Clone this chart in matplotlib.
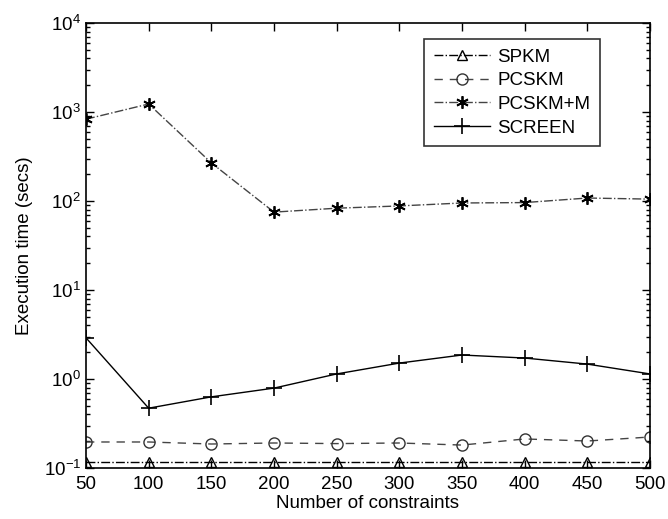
import matplotlib
matplotlib.use("Agg")
import matplotlib.pyplot as plt
from matplotlib.ticker import LogLocator, NullFormatter

plt.rcParams['font.family'] = ['Liberation Sans', 'DejaVu Sans']
plt.rcParams['mathtext.fontset'] = 'custom'
plt.rcParams['mathtext.rm'] = 'Liberation Sans'
plt.rcParams['mathtext.it'] = 'Liberation Sans:italic'

constraints = [50, 100, 150, 200, 250, 300, 350, 400, 450, 500]
spkm = [0.117, 0.117, 0.117, 0.117, 0.117, 0.117, 0.117, 0.117, 0.117, 0.117]
pcskm = [0.196, 0.196, 0.186, 0.191, 0.188, 0.191, 0.181, 0.212, 0.201, 0.223]
pcskm_m = [830, 1230, 268, 75, 83, 88, 95, 96, 108, 105]
screen = [2.9, 0.47, 0.63, 0.79, 1.14, 1.51, 1.86, 1.72, 1.47, 1.14]

xticks = [50, 100, 150, 200, 250, 300, 350, 400, 450, 500]

fig = plt.figure(figsize=(6.68, 5.19), dpi=100)
ax = fig.add_axes([86/668, 1 - 468/519, (650-86)/668, (468-23)/519])

ax.plot(constraints, spkm, color='black', linestyle='-.', linewidth=1.0,
        marker='^', markersize=7, markerfacecolor='none', markeredgecolor='black',
        markeredgewidth=1.0, label='SPKM')
ax.plot(constraints, pcskm, color='#444444', linestyle='--', linewidth=1.0, dashes=(6, 5),
        marker='o', markersize=8, markerfacecolor='none', markeredgecolor='#333333',
        markeredgewidth=1.0, label='PCSKM')
ax.plot(constraints, pcskm_m, color='#444444', linestyle='-.', linewidth=1.0,
        marker=(6, 2, 0), markersize=9, markerfacecolor='black', markeredgecolor='black',
        markeredgewidth=1.3, label='PCSKM+M')
ax.plot(constraints, screen, color='black', linestyle='-', linewidth=1.0,
        marker='+', markersize=11, markeredgewidth=1.2, label='SCREEN')

ax.set_yscale('log')
ax.set_xlim(50, 500)
ax.set_ylim(0.1, 1e4)
ax.set_xticks(xticks)
ax.set_xticklabels([str(t) for t in xticks])
ax.yaxis.set_major_locator(LogLocator(base=10, numticks=10))
ax.yaxis.set_minor_locator(LogLocator(base=10, subs=range(2, 10), numticks=50))
ax.yaxis.set_minor_formatter(NullFormatter())

ax.tick_params(axis='both', which='both', direction='in', top=True, right=True,
               labelsize=13.5, width=1.0)
ax.tick_params(axis='both', which='major', length=6)
ax.tick_params(axis='y', which='minor', length=3)
ax.tick_params(axis='x', pad=6)
for s in ax.spines.values():
    s.set_linewidth(1.2)

ax.set_xlabel('Number of constraints', fontsize=13.5, labelpad=1)
ax.set_ylabel('Execution time (secs)', fontsize=13.5, labelpad=8)

leg = ax.legend(loc='upper right', bbox_to_anchor=(0.911, 0.964), fontsize=13.5,
                frameon=True, fancybox=False, edgecolor='black', handlelength=3.0,
                handletextpad=0.4, borderpad=0.5, labelspacing=0.35, borderaxespad=0)
leg.get_frame().set_linewidth(1.2)

fig.savefig('out.png', dpi=100)
